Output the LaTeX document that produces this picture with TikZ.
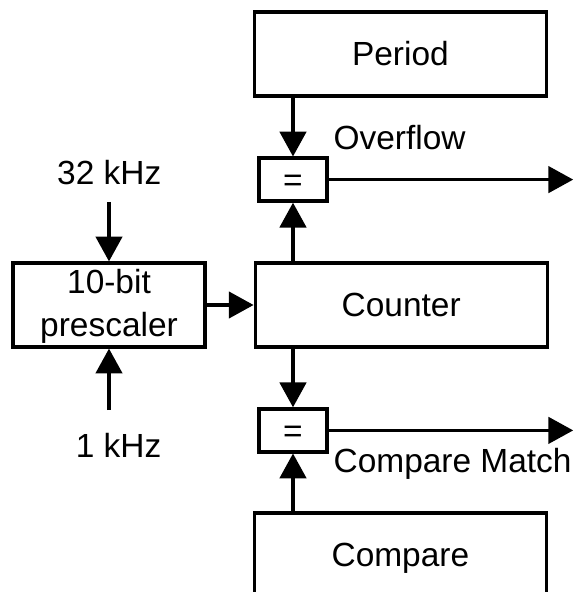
\documentclass[tikz,border=0pt]{standalone}
\usepackage{fontspec}
\setmainfont{Liberation Sans}
\usetikzlibrary{positioning, arrows.meta}

\begin{document}
\begin{tikzpicture}[
        font=\fontsize{23.8}{31.2}\selectfont,
        line width=2.3pt,
        block/.style={draw, inner sep=0pt, minimum width=7.3cm,
                      minimum height=2.1cm, text height=0.6cm, text depth=0pt},
        eqbox/.style={draw, inner sep=0pt, minimum width=1.7cm,
                      minimum height=1.075cm, text height=0.6cm, text depth=0pt},
        freq/.style={inner sep=0pt, anchor=base east},
        sig/.style={inner sep=0pt, anchor=base west},
        flow/.style={-{Triangle[length=0.62cm, width=0.66cm]}}]

        \useasboundingbox (0,0) rectangle (14.35,14.8);

        \node[block] (period)  at (10.01,13.45) {Period};
        \node[block] (counter) at (10.03,7.175) {Counter};
        \node[block] (compare) at (10.01,0.925) {Compare};

        \node[draw, inner sep=0pt, minimum width=4.8cm, minimum height=2.1cm,
              align=center, text height=1.7cm, text depth=0.1cm]
              (prescaler) at (2.725,7.175) {10-bit\\prescaler};

        \node[eqbox] (ovfeq) at (7.325,10.31) {=};
        \node[eqbox] (cmpeq) at (7.325,4.04)  {=};

        \node[freq] (fast) at (4.075,10.175) {32 kHz};
        \node[freq] (slow) at (4.075,3.35)   {1 kHz};

        \node[sig] (ovflabel) at (8.3,11.05)  {Overflow};
        \node[sig] (cmplabel) at (8.3,2.975)  {Compare Match};

        \coordinate (ovfout) at (14.33,10.31);
        \coordinate (cmpout) at (14.33,4.04);

        \draw[flow, shorten <=0.375cm] (prescaler.north |- fast.south) -- (prescaler.north);
        \draw[flow, shorten <=0.55cm] (prescaler.south |- slow.north) -- (prescaler.south);
        \draw[flow] (prescaler) -- (counter);

        \draw[flow] (period.south -| ovfeq) -- (ovfeq.north);
        \draw[flow] (counter.north -| ovfeq) -- (ovfeq.south);
        \draw[flow] (counter.south -| cmpeq) -- (cmpeq.north);
        \draw[flow] (compare.north -| cmpeq) -- (cmpeq.south);

        \draw[flow] (ovfeq) -- (ovfout);
        \draw[flow] (cmpeq) -- (cmpout);

\end{tikzpicture}
\end{document}
